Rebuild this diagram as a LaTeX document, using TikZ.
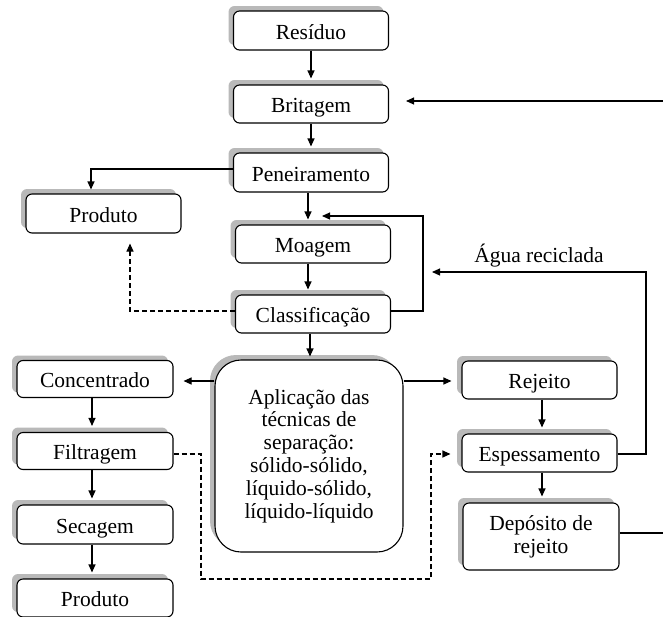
\documentclass[tikz,border=0pt]{standalone}
\usepackage{fontspec}
\setmainfont{Liberation Serif}
\usetikzlibrary{arrows.meta,shadows,calc}
\tikzset{
  stepbox/.style={draw, line width=1.1pt, rounded corners=6pt, fill=white,
    minimum width=155pt, minimum height=38pt, inner sep=0pt, align=center,
    font=\fontsize{21.5}{22.8}\selectfont,
    general shadow={shadow xshift=-5pt, shadow yshift=5pt, fill=gray!55}},
  oneline/.style={text height=17pt, text depth=0pt},
  arr/.style={line width=1.1pt, -{Triangle[length=8pt,width=7pt]}},
  darr/.style={arr, dash pattern=on 5pt off 3pt},
  ln/.style={line width=1.1pt}
}
\begin{document}
\begin{tikzpicture}[x=1pt,y=-1pt]
\useasboundingbox (0,0) rectangle (663,616);
\clip (0,0) rectangle (663,616);
% nodes
\node[stepbox, oneline, minimum height=39pt] (res) at (311,30.5) {Resíduo};
\node[stepbox, oneline] (bri) at (311,104) {Britagem};
\node[stepbox, oneline, minimum height=39pt] (pen) at (311,172.5) {Peneiramento};
\node[stepbox, oneline, minimum height=39pt] (prod1) at (103.5,213.5) {Produto};
\node[stepbox, oneline] (moa) at (313,244) {Moagem};
\node[stepbox, oneline] (cla) at (313,314) {Classificação};
\node[stepbox, minimum width=188pt, minimum height=192pt, rounded corners=26pt] (apl) at (309,456)
  {Aplicação das\\técnicas de\\separação:\\sólido-sólido,\\líquido-sólido,\\líquido-líquido};
\node[stepbox, oneline, minimum width=156pt, minimum height=37pt] (con) at (95,379) {Concentrado};
\node[stepbox, oneline, minimum width=156pt, minimum height=37pt] (fil) at (95,451) {Filtragem};
\node[stepbox, oneline, minimum width=156pt, minimum height=39pt] (sec) at (95,524.5) {Secagem};
\node[stepbox, oneline, minimum width=156pt] (prod2) at (95,598) {Produto};
\node[stepbox, oneline] (rej) at (539.5,380) {Rejeito};
\node[stepbox, oneline] (esp) at (539.5,453) {Espessamento};
\node[stepbox, minimum width=156pt, minimum height=67pt] (dep) at (541,536.5) {Depósito de\\rejeito};
% coordinates
\coordinate (inB) at (663,101);
\coordinate (outD) at (663,533);
\coordinate (loopA) at (423,311);
\coordinate (loopB) at (423,216);
\coordinate (loopC) at (322,216);
\coordinate (agA) at (646,454);
\coordinate (agB) at (646,272);
\coordinate (agC) at (432,272);
\coordinate (pA) at (91,169);
\coordinate (dA) at (130,311);
\coordinate (fA) at (201,454);
\coordinate (fB) at (201,579);
\coordinate (fC) at (431,579);
\coordinate (fD) at (431,454);
% connectors
\draw[arr, shorten >=6pt] (res) -- (bri);
\draw[arr, shorten >=6pt] (bri) -- (pen);
\draw[arr, shorten >=5pt] (pen.south -| 308,0) -- (moa.north -| 308,0);
\draw[arr, shorten >=5pt] (moa.south -| 308,0) -- (cla.north -| 308,0);
\draw[arr, shorten >=3pt] (cla.south -| 310,0) -- (apl.north -| 310,0);
\draw[arr, shorten >=4pt] (pen.west |- pA) -- (pA) -- (pA |- prod1.north);
\draw[arr] (cla.east |- loopA) -- (loopA) -- (loopB) -- (loopC);
\draw[darr, shorten >=10pt] (cla.west |- dA) -- (dA) -- (dA |- prod1.south);
\draw[arr, shorten >=17pt] (inB) -- (bri.east |- inB);
\draw[arr, shorten >=10pt] (apl.west |- 0,381) -- (con.east |- 0,381);
\draw[arr, shorten >=10pt] (apl.east |- 0,381) -- (rej.west |- 0,381);
\draw[arr, shorten >=6pt] (con.south -| 92,0) -- (fil.north -| 92,0);
\draw[arr, shorten >=6pt] (fil.south -| 92,0) -- (sec.north -| 92,0);
\draw[arr, shorten >=6pt] (sec.south -| 92,0) -- (prod2.north -| 92,0);
\draw[arr, shorten >=6pt] (rej.south -| 542,0) -- (esp.north -| 542,0);
\draw[arr, shorten >=6pt] (esp.south -| 542,0) -- (dep.north -| 542,0);
\draw[darr, shorten >=11pt] (fil.east |- fA) -- (fA) -- (fB) -- (fC) -- (fD) -- (esp.west |- fD);
\draw[arr] (esp.east |- agA) -- (agA) -- (agB) -- (agC)
  node[pos=0.5, above=1pt, font=\fontsize{21.5}{23}\selectfont] (agua) {Água reciclada};
\draw[ln] (dep.east |- outD) -- (outD);
\end{tikzpicture}
\end{document}
